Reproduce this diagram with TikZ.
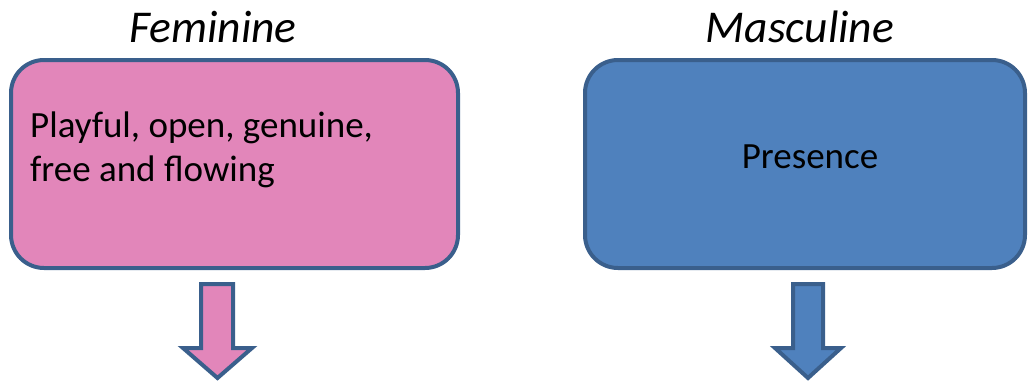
\documentclass[tikz,border=0pt]{standalone}
\usepackage{fontspec}
\setmainfont{Carlito}
\definecolor{pinkfill}{HTML}{E286BA}
\definecolor{bluefill}{HTML}{4F81BD}
\definecolor{edgeblue}{HTML}{3A5F8C}
\begin{document}
\begin{tikzpicture}[x=1pt,y=-1pt,
  box/.style={draw=edgeblue,line width=4pt,rounded corners=33pt,minimum width=447pt,minimum height=208pt,inner sep=0pt},
  title/.style={font=\fontsize{45.5}{54}\selectfont\itshape,text=black,inner sep=0pt},
  body/.style={font=\fontsize{37}{44}\selectfont,text=black,inner sep=0pt},
  darrow/.style={draw=edgeblue,line width=4pt,line join=miter}]
\useasboundingbox (0,0) rectangle (1029,383);
\node[box,fill=pinkfill,minimum width=447pt] (fem) at (234.5,164) {};
\node[box,fill=bluefill,minimum width=440pt] (mas) at (805,164) {};
\node[title,anchor=base] (femt) at (213,42) {Feminine};
\node[title,anchor=base] (mast) at (800,42) {Masculine};
\node[body,anchor=base west,align=left] (femb) at (30,181) {Playful, open, genuine,\\free and flowing};
\node[body,anchor=base] (masb) at (810,168) {Presence};
\draw[darrow,fill=pinkfill] (201,284) -- (233,284) -- (233,348) -- (252,348) -- (217.5,378) -- (183,348) -- (201,348) -- cycle;
\draw[darrow,fill=bluefill] (793,284) -- (823,284) -- (823,348) -- (841,348) -- (808,378) -- (775,348) -- (793,348) -- cycle;
\end{tikzpicture}
\end{document}
